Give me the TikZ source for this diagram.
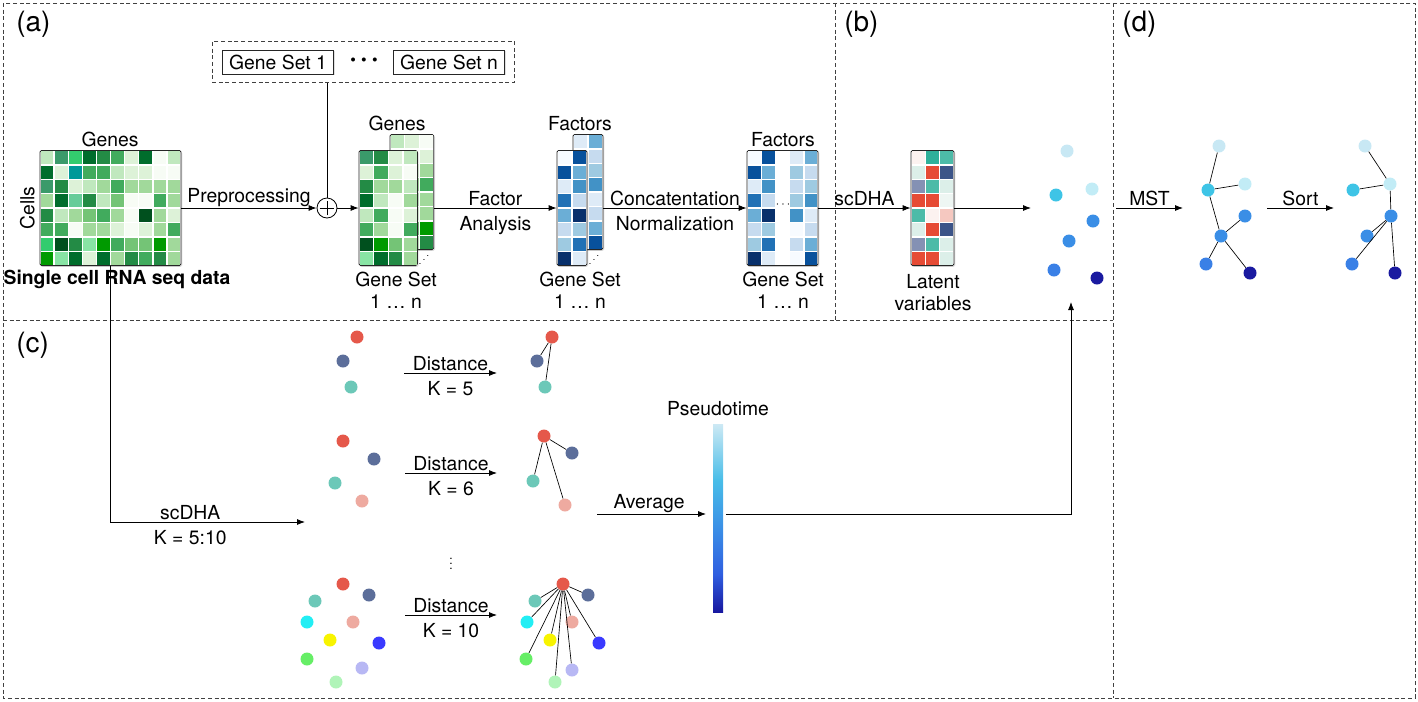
\documentclass[tikz,border=0pt]{standalone}
\usepackage{fontspec}
\setmainfont{TeX Gyre Heros}
\usepackage{tikz}
\usetikzlibrary{arrows.meta,fit,shadows,positioning}

% greens
\definecolor{g0}{HTML}{F7FCF5}\definecolor{g1}{HTML}{DDF2D8}\definecolor{g2}{HTML}{C0E8BE}
\definecolor{g3}{HTML}{A1D99B}\definecolor{g4}{HTML}{74C476}\definecolor{g5}{HTML}{41AB5D}
\definecolor{g6}{HTML}{238B45}\definecolor{g7}{HTML}{006D2C}\definecolor{g8}{HTML}{00501E}
\definecolor{gs}{HTML}{3A9A6A}\definecolor{gb}{HTML}{33CC6E}\definecolor{gt}{HTML}{009999}
\definecolor{gm}{HTML}{66CC99}\definecolor{gl}{HTML}{88E4A4}\definecolor{gg}{HTML}{009A00}
% blues
\definecolor{b0}{HTML}{F7FBFF}\definecolor{b1}{HTML}{DEEBF7}\definecolor{b2}{HTML}{C6DBEF}
\definecolor{b3}{HTML}{9ECAE1}\definecolor{b4}{HTML}{6BAED6}\definecolor{b5}{HTML}{4292C6}
\definecolor{b6}{HTML}{2171B5}\definecolor{b7}{HTML}{08519C}\definecolor{b8}{HTML}{08306B}
% latent
\definecolor{lr}{HTML}{E64B35}\definecolor{lt}{HTML}{2FB09A}\definecolor{lm}{HTML}{4DBBA8}
\definecolor{ln}{HTML}{3C5488}\definecolor{lg}{HTML}{8491B4}\definecolor{ll}{HTML}{DCEFE9}
\definecolor{lp}{HTML}{F5C8C0}\definecolor{lw}{HTML}{FCF2F0}\definecolor{le}{HTML}{EEF6F3}
% cells (c)
\definecolor{cr}{HTML}{E5584A}\definecolor{cb}{HTML}{5C6E9A}\definecolor{ct}{HTML}{6CC8B8}
\definecolor{cp}{HTML}{EEAAA0}\definecolor{cc}{HTML}{22EEF4}\definecolor{cy}{HTML}{F8F400}
\definecolor{cu}{HTML}{3A3AFF}\definecolor{cg}{HTML}{66EE66}\definecolor{cv}{HTML}{B8B8F4}
\definecolor{cl}{HTML}{B0F4B8}
% pseudotime
\definecolor{d1}{HTML}{C8E8F4}\definecolor{d2}{HTML}{3EC4E6}\definecolor{d3}{HTML}{C2ECF6}
\definecolor{d4}{HTML}{3A8EE6}\definecolor{d5}{HTML}{3A80E6}\definecolor{d6}{HTML}{1A1AA0}
\definecolor{pa}{HTML}{1818A0}\definecolor{pb}{HTML}{2F5EE0}\definecolor{pc}{HTML}{3A8EE6}
\definecolor{pd}{HTML}{48BDE8}\definecolor{pe}{HTML}{CDE9F4}

\pgfdeclareverticalshading{ptshade}{100bp}{color(0bp)=(pa); color(25bp)=(pa); color(35bp)=(pb); color(47bp)=(pc); color(60bp)=(pd); color(75bp)=(pe); color(100bp)=(pe)}

\tikzset{
  panel/.style={draw=black!75, line width=0.6pt, dash pattern=on 3pt off 2pt},
  arr/.style={-{Latex[length=6pt,width=4.5pt]}, line width=0.6pt},
  lbl/.style={inner sep=1.5pt, font=\fontsize{14.5}{16.5}\selectfont, align=center},
  lblup/.style={lbl, above, inner ysep=1pt},
  lbldown/.style={lbl, below, inner ysep=6pt},
  tag/.style={inner sep=0pt, font=\fontsize{21}{23}\selectfont, anchor=north west},
  matframe/.style={draw=black!85, line width=0.6pt, rounded corners=1.2pt, fill=white, inner sep=0pt,
    drop shadow={opacity=0.25, shadow xshift=1pt, shadow yshift=-1pt}},
  setbox/.style={draw=black!85, line width=0.6pt, fill=white, inner xsep=5pt, inner ysep=0pt,
    minimum height=18pt, font=\fontsize{14.5}{16.5}\selectfont,
    drop shadow={opacity=0.25, shadow xshift=1pt, shadow yshift=-1pt}},
  dot/.style={circle, inner sep=0pt, minimum size=9.75pt},
  edge/.style={line width=0.5pt},
  oplus/.style={circle, draw, line width=0.6pt, minimum size=15pt, inner sep=0pt,
    path picture={\draw[line width=0.6pt] ([yshift=-5.5pt]path picture bounding box.center) -- ([yshift=5.5pt]path picture bounding box.center)
      ([xshift=-5.5pt]path picture bounding box.center) -- ([xshift=5.5pt]path picture bounding box.center);}},
}

% x0, y0, cell width, cell height, rows of colours
\newcommand{\heatrows}[5]{%
  \foreach \rw [count=\ri] in {#5} {
    \foreach \cl [count=\ci] in \rw {
      \fill[fill=\cl] ({#1+(\ci-1)*#3+0.7},{#2+(\ri-1)*#4+0.7}) rectangle ++({#3-1.4},{#4-1.4});
    }
  }}

\begin{document}
\begin{tikzpicture}[x=0.75pt,y=0.75pt,yscale=-1,xscale=1]
\useasboundingbox (0,0) rectangle (1418,701);

%Panels
\draw[panel] (3,3) rectangle (1415,698);
\draw[panel] (3,320) -- (1113,320);
\draw[panel] (835,3) -- (835,320);
\draw[panel] (1113,3) -- (1113,698);
\node[tag] (taga) at (16,11) {(a)};
\node[tag] (tagb) at (844,11) {(b)};
\node[tag] (tagc) at (16,332) {(c)};
\node[tag] (tagd) at (1122,11) {(d)};

%Shape: Gene sets
\node[setbox] (gs1) at (278,62) {Gene Set 1};
\node[setbox] (gsn) at (449,62) {Gene Set n};
\node[inner sep=0pt, font=\fontsize{12}{14}\selectfont] (gsdots) at (364,62) {\textbullet\,\,\textbullet\,\,\textbullet};
\node[panel, fit=(gs1)(gsn), inner xsep=7.5pt, inner ysep=6pt] (gsbox) {};

%Shape: Count matrix
\node[matframe, fit={(40,150.4)(181,265.6)}] (cnt) {};
\heatrows{40}{150.4}{14.1}{14.4}{{g2,gs,gb,g7,g6,g5,g1,g7,g0,g2},{g7,g1,gt,g5,g5,g2,g1,g1,g0,g0},{gs,g6,g1,g2,g3,g5,g3,g3,g3,g3},{g3,g7,gm,g6,g2,g4,g0,g0,g5,g3},{g6,g2,g3,g4,g5,g3,g0,g8,g3,g1},{g5,g5,g0,g3,g3,g1,g0,g1,g3,g5},{gb,g8,g6,gl,gg,g5,g4,g4,gg,g3},{gg,gl,g7,g1,g7,g3,g6,g5,g6,g3}}
% Text Node
\node[lbl, anchor=south] (genes1) at (110,149) {Genes};
\node[lbl, rotate=90, anchor=south] (cells) at (37,208) {Cells};

%Shape: Plus
\node[oplus] (plus) at (327,208) {};

%Shape: Gene matrices
\node[matframe, fit={(390,134.4)(433.8,249.6)}] (gb) {};
\heatrows{390}{134.4}{14.6}{14.4}{{g2,g1,g0},{g3,g0,g1},{g2,g1,g3},{g1,g3,g5},{g5,g2,g3},{g2,g1,g3},{g3,g4,gg},{g1,g2,g6}}
\node[matframe, fit={(359,150.4)(417.4,265.6)}] (gf) {};
\heatrows{359}{150.4}{14.6}{14.4}{{gs,g6,g1,g2},{g1,g5,g1,g0},{g6,g3,g3,g2},{g7,g2,g0,g3},{g2,g5,g0,g1},{g5,g3,g0,g5},{g8,gg,g4,g3},{gl,g7,g6,g3}}
\node[inner sep=0pt, font=\scriptsize] (gdots) at (424,256) {\reflectbox{$\ddots$}};

%Shape: Factor matrices
\node[matframe, fit={(573,134.4)(603,249.6)}] (fb) {};
\heatrows{573}{134.4}{15}{14.4}{{b1,b4},{b1,b2},{b2,b3},{b1,b5},{b2,b1},{b1,b2},{b2,b4},{b1,b7}}
\node[matframe, fit={(557,150.4)(587,265.6)}] (ff) {};
\heatrows{557}{150.4}{15}{14.4}{{b0,b7},{b7,b4},{b1,b5},{b6,b2},{b4,b8},{b2,b3},{b3,b6},{b8,b1}}
\node[inner sep=0pt, font=\scriptsize] (fdots) at (594,256) {\reflectbox{$\ddots$}};

%Shape: Joined factors
\node[matframe, fit={(747,150.4)(818,265.6)}] (fc) {};
\heatrows{747}{150.4}{14.2}{14.4}{{b0,b7,white,b1,b4},{b7,b4,white,b3,b2},{b1,b5,white,b2,b3},{b6,b2,white,b3,b5},{b4,b8,white,b5,b1},{b2,b3,white,b0,b2},{b3,b6,white,b2,b4},{b8,b1,white,b0,b7}}
\node[inner sep=0pt, font=\small] (cdots) at (783,205) {$\cdots$};

%Shape: Latent matrix
\node[matframe, fit={(911,150.4)(954,265.6)}] (lat) {};
\heatrows{911}{150.4}{14.33}{14.4}{{lw,lt,lm},{ll,lr,ln},{lg,lm,ll},{lr,lr,le},{lm,lw,lp},{ll,lr,ln},{lg,lm,ll},{lr,lr,ll}}

% Text Node
\node[lbl, anchor=south] (genes2) at (397,133) {Genes};
\node[lbl, anchor=south] (fact1) at (580,133) {Factors};
\node[lbl, anchor=south] (fact2) at (783,149) {Factors};
\node[lbl, anchor=north] (set1) at (396,270) {Gene Set\\1 … n};
\node[lbl, anchor=north] (set2) at (580,270) {Gene Set\\1 … n};
\node[lbl, anchor=north] (set3) at (783,270) {Gene Set\\1 … n};
\node[lbl, anchor=north] (latv) at (933,272) {Latent\\variables};

%Straight Lines
\draw[line width=0.6pt] (gsbox.south -| plus) -- (plus.north);
\draw[arr] (cnt.east) -- node[lblup] {Preprocessing} (plus.west);
\draw[arr] (plus.east) -- (gf.west);
\draw[arr] (gb.east |- gf.east) -- node[lblup] {Factor} node[lbldown] {Analysis} (ff.west);
\draw[arr] (fb.east |- ff.east) -- node[lblup] {Concatentation} node[lbldown] {Normalization} (fc.west);
\coordinate (bin) at (1031,208);
\draw[arr] (fc.east) -- node[lblup] {scDHA} (lat.west);
\draw[arr] (lat.east) -- (bin);

% Text Node
\node[lbl, anchor=north, font=\fontsize{14.5}{16.5}\selectfont\bfseries] (scdata) at (117,268) {Single cell RNA seq data};

%Shape: Cells in latent space
\foreach \n/\x/\y/\c in {1/1067/151/d1,2/1056/195/d2,3/1092/189/d3,4/1093/221/d4,5/1069/241/d4,6/1054/270/d5,7/1097/278/d6}
  \node[dot, fill=\c] (p\n) at (\x,\y) {};

%Shape: Trees
\foreach \n/\x/\y/\c in {1/1219/146/d1,2/1208/190/d2,3/1245/184/d3,4/1245/216/d4,5/1221/236/d4,6/1206/264/d5,7/1250/273/d6}
  \node[dot, fill=\c] (m\n) at (\x,\y) {};
\foreach \a/\b in {1/2,2/3,2/5,5/4,5/6,5/7}
  \draw[edge] (m\a) -- (m\b);
\foreach \n/\x/\y/\c in {1/1365/146/d1,2/1353/190/d2,3/1390/184/d3,4/1391/216/d4,5/1367/236/d4,6/1352/264/d5,7/1395/273/d6}
  \node[dot, fill=\c] (s\n) at (\x,\y) {};
\foreach \a/\b in {1/3,2/3,3/4,4/5,4/6,4/7}
  \draw[edge] (s\a) -- (s\b);
\coordinate (mst0) at (1116,208);
\coordinate (mst1) at (1183,208);
\coordinate (srt0) at (1267,208);
\coordinate (srt1) at (1334,208);
\draw[arr] (mst0) -- node[lblup] {MST} (mst1);
\draw[arr] (srt0) -- node[lblup] {Sort} (srt1);

%Straight Lines (c)
\coordinate (cin) at (305,522);
\draw[arr] (cnt.south) |- node[lblup, pos=0.705] {scDHA} node[lbldown, pos=0.705] {K = 5:10} (cin);

%Shape: K = 5
\foreach \n/\x/\y/\c in {1/357/337/cr,2/343/361/cb,3/351/387/ct}
  \node[dot, fill=\c] (u\n) at (\x,\y) {};
\foreach \n/\x/\y/\c in {1/552/337/cr,2/537/361/cb,3/545/387/ct}
  \node[dot, fill=\c] (v\n) at (\x,\y) {};
\foreach \b in {2,3}
  \draw[edge] (v1) -- (v\b);
\coordinate (k5a) at (404,373);
\coordinate (k5b) at (497,373);
\draw[arr] (k5a) -- node[lblup] {Distance} node[lbldown] {K = 5} (k5b);

%Shape: K = 6
\foreach \n/\x/\y/\c in {1/343/441/cr,2/374/459/cb,3/335/483/ct,4/362/501/cp}
  \node[dot, fill=\c] (w\n) at (\x,\y) {};
\foreach \n/\x/\y/\c in {1/544/436/cr,2/572/453/cb,3/533/481/ct,4/565/505/cp}
  \node[dot, fill=\c] (x\n) at (\x,\y) {};
\foreach \b in {2,3,4}
  \draw[edge] (x1) -- (x\b);
\coordinate (k6a) at (405,473);
\coordinate (k6b) at (497,473);
\draw[arr] (k6a) -- node[lblup] {Distance} node[lbldown] {K = 6} (k6b);

\node[inner sep=0pt, font=\small] (vdots) at (451,560) {$\vdots$};

%Shape: K = 10
\foreach \n/\x/\y/\c in {1/343/584/cr,2/369/595/cb,3/315/601/ct,4/307/622/cc,5/353/622/cp,6/330/640/cy,7/379/643/cu,8/307/659/cg,9/362/668/cv,10/336/682/cl}
  \node[dot, fill=\c] (y\n) at (\x,\y) {};
\foreach \n/\x/\y/\c in {1/563/584/cr,2/588/595/cb,3/535/601/ct,4/527/622/cc,5/572/622/cp,6/550/640/cy,7/599/643/cu,8/526/659/cg,9/572/670/cv,10/555/682/cl}
  \node[dot, fill=\c] (z\n) at (\x,\y) {};
\foreach \b in {2,...,10}
  \draw[edge] (z1) -- (z\b);
\coordinate (k10a) at (405,615);
\coordinate (k10b) at (497,615);
\draw[arr] (k10a) -- node[lblup] {Distance} node[lbldown] {K = 10} (k10b);

%Shape: Pseudotime bar
\node[fit={(713,424)(723,612)}, inner sep=0pt, shade, shading=ptshade] (pt) {};
\node[lbl, anchor=south] (ptl) at (718,418) {Pseudotime};
\coordinate (avs) at (597,514);
\coordinate (bup) at (1071,302);
\draw[arr, shorten >=5pt] (avs) -- node[lblup, pos=0.45] {Average} (avs -| pt.west);
\draw[arr] ([xshift=2pt]pt.east |- avs) -| (bup);

\end{tikzpicture}
\end{document}
